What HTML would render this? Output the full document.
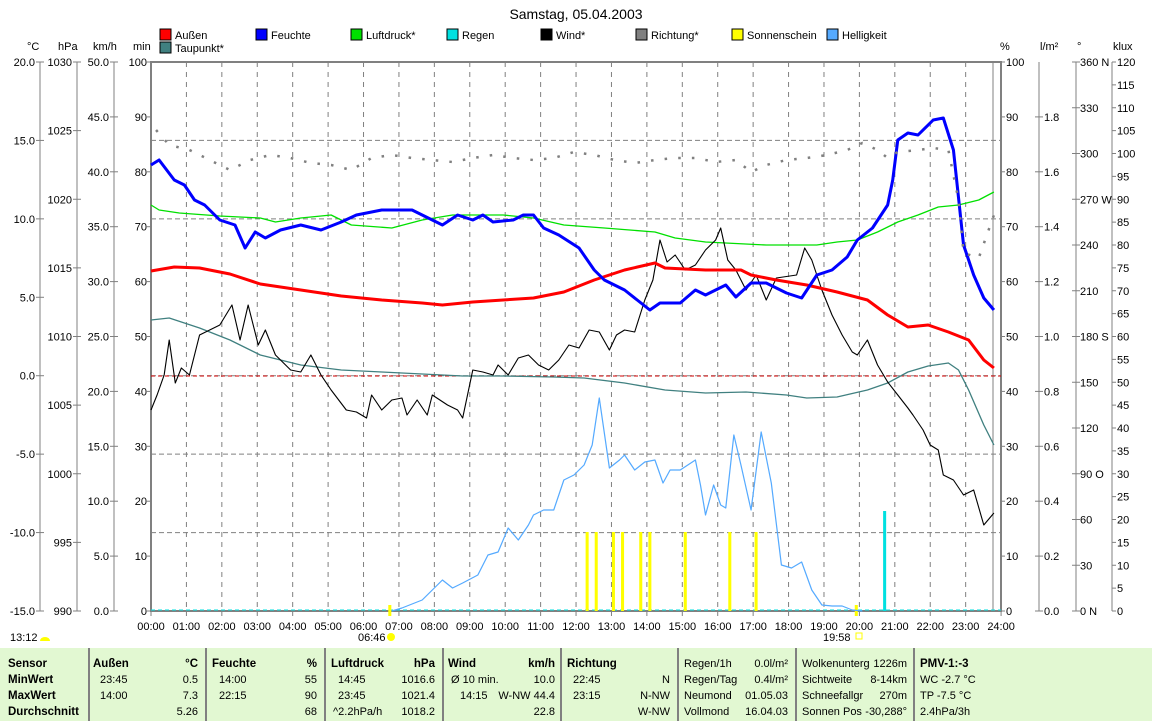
<!DOCTYPE html>
<html><head><meta charset="utf-8"><style>
html,body{margin:0;padding:0;background:#fff;}
svg{display:block;font-family:"Liberation Sans",sans-serif;font-size:11px;}
.b{font-weight:bold;font-size:11.5px}
.t{font-size:11px}
</style></head><body>
<svg id="s" width="1152" height="721" viewBox="0 0 1152 721" xmlns="http://www.w3.org/2000/svg">
<text x="576" y="19" text-anchor="middle" font-size="14">Samstag, 05.04.2003</text>
<g id="grid"></g>
<g id="axes" stroke="#808080" fill="none"></g>
<g id="labels"></g>
<rect x="151" y="62" width="850" height="549" fill="none" stroke="#808080" stroke-width="2"/>
<line x1="993" y1="62" x2="993" y2="611" stroke="#808080" stroke-width="1"/>
<line x1="151" y1="376" x2="1001" y2="376" stroke="#d00000" stroke-dasharray="4,3"/>
<line x1="151" y1="610" x2="1001" y2="610" stroke="#00e0e0" stroke-dasharray="4,3"/>
<g transform="translate(151,0) scale(1.0119,1) translate(-152,0)" fill="none" stroke-linejoin="round">
<g stroke="#ffff00" stroke-width="3">
<line x1="583" y1="611" x2="583" y2="532"/><line x1="592" y1="611" x2="592" y2="532"/>
<line x1="609" y1="611" x2="609" y2="532"/><line x1="618" y1="611" x2="618" y2="532"/>
<line x1="636" y1="611" x2="636" y2="532"/><line x1="645" y1="611" x2="645" y2="532"/>
<line x1="680" y1="611" x2="680" y2="532"/><line x1="724" y1="611" x2="724" y2="532"/>
<line x1="750" y1="611" x2="750" y2="532"/>
<line x1="388" y1="605" x2="388" y2="616"/><line x1="849" y1="605" x2="849" y2="616"/>
</g>
<line x1="877" y1="611" x2="877" y2="511" stroke="#00e0e0" stroke-width="3"/>
<polyline stroke="#55aaff" stroke-width="1.2" points="390,611 400,608 420,600 430,590 440,580 450,588 460,583 475,575 485,555 495,552 505,528 515,540 525,525 530,515 540,510 550,510 560,480 570,475 580,465 588,445 595,398 605,468 615,460 620,455 630,470 640,462 650,460 658,483 665,470 675,470 690,460 695,485 700,515 708,485 715,505 720,508 728,435 735,465 745,510 755,432 765,483 775,565 785,568 795,562 805,590 815,605 825,606 835,606 845,610 855,611"/>
<polyline stroke="#408080" stroke-width="1.3" points="152,320 170,318 200,328 230,340 260,355 300,365 340,370 380,372 420,374 460,376 500,376 550,377 580,378 620,383 660,390 700,393 740,392 780,395 800,398 830,397 860,390 880,383 900,372 920,366 940,363 950,370 960,390 975,425 985,445"/>
<polyline stroke="#00e000" stroke-width="1.3" points="152,205 160,210 180,213 220,216 260,218 275,222 300,218 330,215 350,225 390,228 420,220 450,215 500,215 530,218 560,225 600,228 650,232 670,238 700,242 760,245 810,245 830,242 850,240 870,232 890,222 910,215 930,207 950,205 970,200 985,192"/>
<polyline stroke="#000" stroke-width="1.1" points="152,410 158,395 165,375 170,340 176,383 182,368 190,375 200,335 210,330 220,325 232,305 240,340 248,305 258,345 265,330 275,355 290,370 300,372 310,355 320,375 330,390 345,410 355,412 365,418 370,395 380,410 390,400 400,398 405,415 415,400 425,415 430,395 445,405 455,410 460,418 470,370 480,372 490,375 495,365 505,375 515,358 525,355 535,365 545,370 555,360 565,345 575,348 585,330 595,332 605,350 612,335 620,330 630,332 640,300 648,280 655,240 662,262 670,255 680,270 690,265 700,250 710,240 715,228 722,260 730,270 740,290 750,275 760,300 770,278 790,275 798,248 805,260 815,290 825,315 835,335 845,352 850,355 860,340 870,365 880,382 890,395 900,408 905,415 915,430 922,445 930,450 935,475 945,480 955,495 965,490 975,525 985,513"/>
<polyline stroke="#ff0000" stroke-width="3" points="152,271 175,267 200,268 230,274 260,284 300,290 340,296 380,300 420,303 440,305 470,302 500,300 530,298 560,292 590,280 620,270 650,263 660,268 700,270 735,270 745,275 770,280 800,285 830,292 860,300 880,315 900,327 920,325 940,332 960,340 975,360 985,368"/>
<polyline stroke="#0000ff" stroke-width="3" points="152,165 160,160 175,180 185,185 195,200 205,205 220,220 235,225 245,248 255,232 265,238 280,230 300,225 320,230 340,222 355,215 380,210 410,210 420,215 440,225 455,215 470,220 480,215 490,222 510,220 520,215 530,215 540,228 555,235 575,248 590,270 600,280 620,290 645,310 655,303 675,303 690,290 700,295 720,285 730,297 745,283 760,283 780,293 795,298 810,275 825,270 840,257 850,240 865,228 880,205 885,180 890,140 900,133 910,135 925,120 935,118 945,150 955,245 965,275 975,298 985,310"/>
<polyline stroke="#808080" stroke-width="2.5" stroke-dasharray="2.5,11" points="157,130 170,145 190,150 210,160 230,170 250,160 270,155 290,158 310,163 330,165 350,170 370,158 390,155 410,158 430,160 450,162 470,158 490,155 510,158 530,160 550,158 570,152 590,155 610,160 630,163 650,160 670,158 690,158 710,162 730,160 745,172 760,165 780,160 800,158 820,155 840,150 855,143 870,150 880,158 890,152 910,150 925,148 940,150 950,200 955,253 970,258 985,215"/>
</g>
<g id="legend"></g>
<text x="10" y="641">13:12</text><path d="M40,641 a5,4 0 0 1 10,0 z" fill="#ffff00"/>
<text x="358" y="641">06:46</text><circle cx="391" cy="637" r="4" fill="#ffff00"/>
<text x="823" y="641">19:58</text><rect x="856" y="633" width="6" height="6" fill="none" stroke="#ffff00"/>
<rect x="0" y="648" width="1152" height="73" fill="#e2f8d2"/>
<g id="table"></g>
</svg>
<script>
var NS="http://www.w3.org/2000/svg";
function el(p,n,a,t){var e=document.createElementNS(NS,n);for(var k in a)e.setAttribute(k,a[k]);if(t!==undefined)e.textContent=t;document.getElementById(p).appendChild(e);return e;}
function X(h){return 151+h*35.42;}
for(var h=1;h<24;h++)el("grid","line",{x1:X(h),y1:62,x2:X(h),y2:611,stroke:"#808080","stroke-dasharray":"5,5"});
for(var k=1;k<7;k++){if(k==3)continue;var y=62+k*549/7;el("grid","line",{x1:151,y1:y,x2:1001,y2:y,stroke:"#808080","stroke-dasharray":"5,3"});}
for(var h=0;h<=24;h++){el("grid","line",{x1:X(h),y1:611,x2:X(h),y2:616,stroke:"#808080"});el("labels","text",{x:X(h),y:630,"text-anchor":"middle"},(h<10?"0":"")+h+":00");}
[40,77,114,1039,1076,1112].forEach(function(x){el("axes","line",{x1:x,y1:62,x2:x,y2:611});});
function axis(n,f,x,tx,anchor,t1,t2){for(var i=0;i<=n;i++){var y=62+i*549/n;var s=f(i);if(s===null)continue;el("axes","line",{x1:t1,y1:y,x2:t2,y2:y});el("labels","text",{x:tx,y:y+4,"text-anchor":anchor},s);}}
axis(7,function(i){return (20-5*i).toFixed(1);},40,35,"end",36,44);
axis(8,function(i){return (1030-5*i)+"";},77,72,"end",73,81);
axis(10,function(i){return (50-5*i).toFixed(1);},114,109,"end",110,118);
axis(10,function(i){return (100-10*i)+"";},151,147,"end",147,151);
axis(10,function(i){return (100-10*i)+"";},1001,1006,"start",1001,1005);
axis(10,function(i){return i==0?null:(2-0.2*i).toFixed(1);},1039,1044,"start",1035,1043);
var dirs={0:" N",3:" W",6:" S",9:" O",12:" N"};
axis(12,function(i){return (360-30*i)+(dirs[i]||"");},1076,1080,"start",1072,1080);
axis(24,function(i){return (120-5*i)+"";},1112,1117,"start",1112,1116);
[["°C",27],["hPa",58],["km/h",93],["min",133],["%",1000],["l/m²",1040],["°",1077],["klux",1113]].forEach(function(a){el("labels","text",{x:a[1],y:50},a[0]);});
[["Außen","#ff0000",160,38],["Taupunkt*","#408080",160,51],["Feuchte","#0000ff",256,38],["Luftdruck*","#00e000",351,38],["Regen","#00e0e0",447,38],["Wind*","#000000",541,38],["Richtung*","#808080",636,38],["Sonnenschein","#ffff00",732,38],["Helligkeit","#55aaff",827,38]].forEach(function(a){el("legend","rect",{x:a[2],y:a[3]-9,width:11,height:11,fill:a[1],stroke:"#000"});el("legend","text",{x:a[2]+15,y:a[3]+1},a[0]);});
[89,206,325,443,561,678,796,914].forEach(function(x){el("table","line",{x1:x,y1:648,x2:x,y2:721,stroke:"#808080","stroke-width":2});});
var R=[667,683,699,715];
function T(x,r,s,b,end){el("table","text",{x:x,y:R[r],"class":b?"b":"t","text-anchor":end?"end":"start"},s);}
T(8,0,"Sensor",1);T(8,1,"MinWert",1);T(8,2,"MaxWert",1);T(8,3,"Durchschnitt",1);
T(93,0,"Außen",1);T(198,0,"°C",1,1);T(100,1,"23:45");T(198,1,"0.5",0,1);T(100,2,"14:00");T(198,2,"7.3",0,1);T(198,3,"5.26",0,1);
T(212,0,"Feuchte",1);T(317,0,"%",1,1);T(219,1,"14:00");T(317,1,"55",0,1);T(219,2,"22:15");T(317,2,"90",0,1);T(317,3,"68",0,1);
T(331,0,"Luftdruck",1);T(435,0,"hPa",1,1);T(338,1,"14:45");T(435,1,"1016.6",0,1);T(338,2,"23:45");T(435,2,"1021.4",0,1);T(333,3,"^2.2hPa/h");T(435,3,"1018.2",0,1);
T(448,0,"Wind",1);T(555,0,"km/h",1,1);T(451,1,"Ø 10 min.");T(555,1,"10.0",0,1);T(460,2,"14:15");T(555,2,"W-NW 44.4",0,1);T(555,3,"22.8",0,1);
T(567,0,"Richtung",1);T(573,1,"22:45");T(670,1,"N",0,1);T(573,2,"23:15");T(670,2,"N-NW",0,1);T(670,3,"W-NW",0,1);
T(684,0,"Regen/1h");T(788,0,"0.0l/m²",0,1);T(684,1,"Regen/Tag");T(788,1,"0.4l/m²",0,1);T(684,2,"Neumond");T(788,2,"01.05.03",0,1);T(684,3,"Vollmond");T(788,3,"16.04.03",0,1);
T(802,0,"Wolkenunterg");T(907,0,"1226m",0,1);T(802,1,"Sichtweite");T(907,1,"8-14km",0,1);T(802,2,"Schneefallgr");T(907,2,"270m",0,1);T(802,3,"Sonnen Pos");T(907,3,"-30,288°",0,1);
T(920,0,"PMV-1:-3",1);T(920,1,"WC -2.7 °C");T(920,2,"TP -7.5 °C");T(920,3,"2.4hPa/3h");
</script>
</body></html>
